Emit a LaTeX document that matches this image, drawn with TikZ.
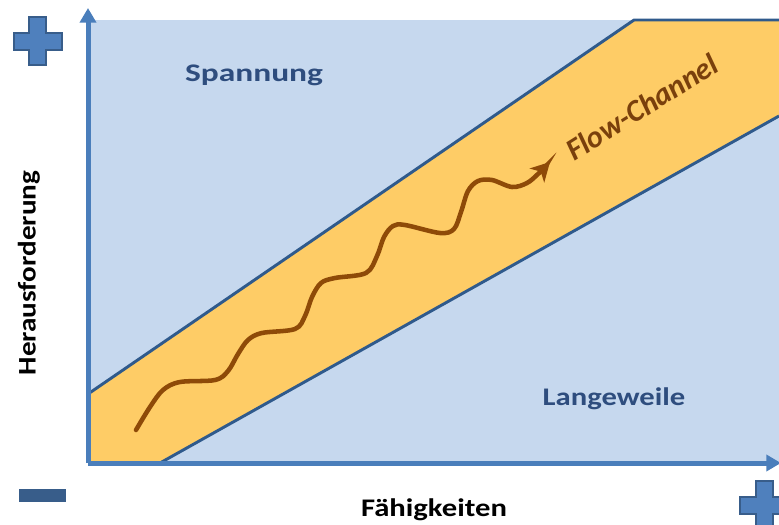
\documentclass[tikz,border=0pt]{standalone}
\usepackage{fontspec}
\setmainfont{Carlito}
\usepackage{graphicx}
\usetikzlibrary{arrows.meta}

\definecolor{zoneblue}{HTML}{C6D8EE}
\definecolor{axisblue}{HTML}{4A7EBB}
\definecolor{edgeblue}{HTML}{2F5A8C}
\definecolor{flowyellow}{HTML}{FECC66}
\definecolor{flowbrown}{HTML}{8E4A08}
\definecolor{labelbrown}{HTML}{7A400C}
\definecolor{zonetext}{HTML}{2E4D7E}
\definecolor{signfill}{HTML}{4F80BD}
\definecolor{signedge}{HTML}{385D8A}

\tikzset{
  axisline/.style={draw=axisblue, line width=3.75pt,
    -{Triangle[length=11pt,width=12pt]}},
  channeledge/.style={draw=edgeblue, line width=2.2pt, line join=round},
  zonelabel/.style={font=\bfseries\fontsize{19}{22}\selectfont, text=zonetext, inner sep=0pt},
  axislabel/.style={font=\bfseries\fontsize{19}{22}\selectfont, text=black, inner sep=0pt},
  flowlabel/.style={font=\bfseries\itshape\fontsize{23}{26}\selectfont, text=labelbrown, inner sep=0pt},
  flowpath/.style={draw=flowbrown, line width=3.4pt, line cap=round,
    -{Stealth[length=14pt,width=15pt,inset=4pt]}},
  plussign/.pic={
    \filldraw[fill=signfill, draw=signedge, line width=1.5pt, line join=miter]
      (-8.5,-24) -- (8.5,-24) -- (8.5,-8.5) -- (24,-8.5) -- (24,8.5) -- (8.5,8.5)
      -- (8.5,24) -- (-8.5,24) -- (-8.5,8.5) -- (-24,8.5) -- (-24,-8.5) -- (-8.5,-8.5) -- cycle;
  }
}

\begin{document}
\begin{tikzpicture}[x=0.75pt, y=-0.75pt]
  \useasboundingbox (0,0) rectangle (779,525);

  % corner points of the chart
  \coordinate (O)  at (88,463);
  \coordinate (Ytop) at (88,8);
  \coordinate (Xend) at (781,463);

  % background zone
  \fill[zoneblue] (88,20) rectangle (779,463);

  % flow channel band
  \coordinate (UL) at (88,394);
  \coordinate (UT) at (634,20);
  \coordinate (UR) at (779,20);
  \coordinate (LR) at (779,116);
  \coordinate (LL) at (160,463);
  \fill[flowyellow] (UL) -- (UT) -- (UR) -- (LR) -- (LL) -- (O) -- cycle;
  \draw[channeledge] (UL) -- (UT) -- (UR);
  \draw[channeledge] (LR) -- (LL);

  % wavy progress path inside the channel
  \draw[flowpath] plot[smooth, tension=0.55] coordinates {
    (136,430) (150,407) (163,390) (180,382) (215,380) (228,371) (238,354)
    (248,340) (262,333) (295,329) (305,316) (312,297) (321,283) (335,278)
    (366,273) (377,256) (384,237) (393,226) (405,225) (440,233) (454,229)
    (461,212) (468,191) (478,181) (492,180) (512,187) (527,183) (538,174)
    (550,162)};

  % axes
  \draw[axisline] (O) -- (Ytop);
  \draw[axisline] (O) -- (Xend);

  % zone labels
  \node[zonelabel] (span) at (254,75) {\scalebox{1.32}[1]{Spannung}};
  \node[zonelabel] (lang) at (614,399) {\scalebox{1.21}[1]{Langeweile}};
  \node[flowlabel, rotate=32] (flow) at (642,107) {Flow-Channel};

  % axis labels
  \node[axislabel] (skill) at (434,510) {\scalebox{1.21}[1]{Fähigkeiten}};
  \node[axislabel, rotate=90] (chal) at (29,273) {\scalebox{1.15}[1]{Herausforderung}};

  % plus / minus markers
  \pic at (37.5,41) {plussign};
  \pic at (764,505) {plussign};
  \fill[signedge] (19,489) rectangle (66,502);
\end{tikzpicture}
\end{document}
